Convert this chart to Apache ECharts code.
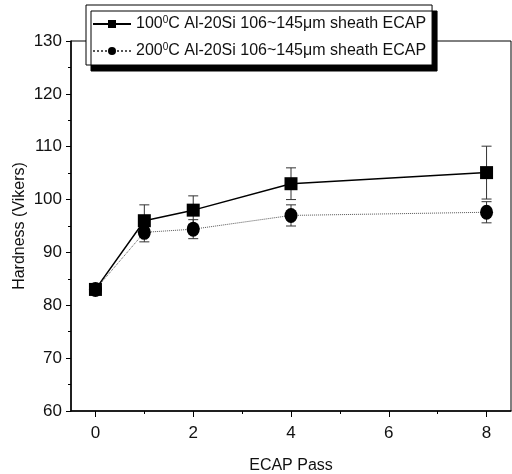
<!DOCTYPE html>
<html><head><meta charset="utf-8">
<script src="https://cdn.jsdelivr.net/npm/echarts@6/dist/echarts.min.js"></script>
<style>html,body{margin:0;padding:0;background:#fff}#c{width:512px;height:474px}</style>
</head><body><div id="c"></div>
<script>
const passes = [0, 1, 2, 4, 8];
const hard100 = [83, 96, 98, 103, 105.1];
const err100 = [0, 3, 2.7, 3, 5];
const hard200 = [83, 93.8, 94.4, 97, 97.6];
const err200 = [0, 1.8, 1.8, 2, 2];
const xMajorTicks = [0, 2, 4, 6, 8];
const xMinorTicks = [1, 3, 5, 7];
const name100 = '100°C Al-20Si 106~145μm sheath ECAP';
const name200 = '200°C Al-20Si 106~145μm sheath ECAP';

const FONT = 'Liberation Sans, Arial, sans-serif';
function pts(v){ return passes.map((x,i)=>[x, v[i]]); }
function errData(v,e){ return passes.map((x,i)=>[x, v[i]-e[i], v[i]+e[i]]); }
function errSeries(v,e,color){
  return {
    type:'custom', z:1, silent:true,
    data: errData(v,e),
    renderItem: function(params, api){
      const x = api.value(0);
      if (api.value(2) - api.value(1) <= 0) return null;
      const lo = api.coord([x, api.value(1)]);
      const hi = api.coord([x, api.value(2)]);
      const w = 5;
      const st = {stroke: color, lineWidth: 1};
      return {type:'group', children:[
        {type:'line', shape:{x1:lo[0],y1:lo[1],x2:hi[0],y2:hi[1]}, style:st},
        {type:'line', shape:{x1:lo[0]-w,y1:lo[1],x2:lo[0]+w,y2:lo[1]}, style:st},
        {type:'line', shape:{x1:hi[0]-w,y1:hi[1],x2:hi[0]+w,y2:hi[1]}, style:st}
      ]};
    }
  };
}
const chart = echarts.init(document.getElementById('c'), null, {renderer:'canvas'});
chart.setOption({
  animation:false,
  backgroundColor:'#fff',
  textStyle:{fontFamily:FONT},
  grid:{left:71, right:1, top:41, bottom:63, outerBoundsMode:'none', containLabel:false,
        show:true, borderColor:'#000', borderWidth:1, backgroundColor:'transparent'},
  legend:{
    orient:'vertical', left:86, top:5, padding:[10,6,5,6], itemGap:9,
    backgroundColor:'#fff', borderColor:'#000', borderWidth:1,
    shadowColor:'#000', shadowOffsetX:5, shadowOffsetY:6, shadowBlur:0,
    itemWidth:38, itemHeight:10,
    data:[name100, name200],
    formatter:function(n){
      const parts = n.split('°');
      return '{t|'+parts[0]+'}{s|0}{t|'+parts[1]+'}';
    },
    textStyle:{fontFamily:FONT, fontSize:16, color:'#111',
      rich:{t:{fontFamily:FONT, fontSize:16, lineHeight:18, color:'#111'}, s:{fontFamily:FONT, fontSize:10, lineHeight:18, color:'#111', verticalAlign:'top', padding:[0,0,8,0]}}}
  },
  xAxis:[{
    type:'value', min:-0.5, max:8.5,
    name:'ECAP Pass', nameLocation:'middle', nameGap:47, nameMoveOverlap:false,
    nameTextStyle:{fontFamily:FONT, fontSize:16, color:'#111'},
    axisLine:{show:true, onZero:false, lineStyle:{color:'#000', width:1.5}},
    axisTick:{show:true, inside:false, length:6, customValues:xMajorTicks, lineStyle:{color:'#000'}},
    axisLabel:{customValues:xMajorTicks, fontFamily:FONT, fontSize:17, color:'#111', margin:14},
    splitLine:{show:false}
  },{
    type:'value', min:-0.5, max:8.5, position:'bottom',
    axisLine:{show:false, onZero:false},
    axisTick:{show:true, inside:false, length:3, customValues:xMinorTicks, lineStyle:{color:'#000'}},
    axisLabel:{show:false},
    splitLine:{show:false}
  }],
  yAxis:{
    type:'value', min:60, max:130, interval:10,
    name:'Hardness (Vikers)', nameLocation:'middle', nameGap:43, nameRotate:90, nameMoveOverlap:false,
    nameTextStyle:{fontFamily:FONT, fontSize:16, color:'#111'},
    axisLine:{show:true, onZero:false, lineStyle:{color:'#000', width:1.5}},
    axisTick:{show:true, inside:false, length:5, lineStyle:{color:'#000'}},
    minorTick:{show:true, splitNumber:2, length:3, lineStyle:{color:'#000'}},
    axisLabel:{fontFamily:FONT, fontSize:17, color:'#111', margin:9},
    splitLine:{show:false}
  },
  series:[
    errSeries(hard200, err200, '#333'),
    errSeries(hard100, err100, '#333'),
    {name:name200, type:'line', z:3, data:pts(hard200), symbol:'circle', symbolSize:[13,15],
     lineStyle:{color:'#555', width:1, type:'dotted'}, itemStyle:{color:'#000'}},
    {name:name100, type:'line', z:4, data:pts(hard100), symbol:'rect', symbolSize:13,
     lineStyle:{color:'#000', width:1.5, type:'solid'}, itemStyle:{color:'#000'}}
  ]
});
</script></body></html>
